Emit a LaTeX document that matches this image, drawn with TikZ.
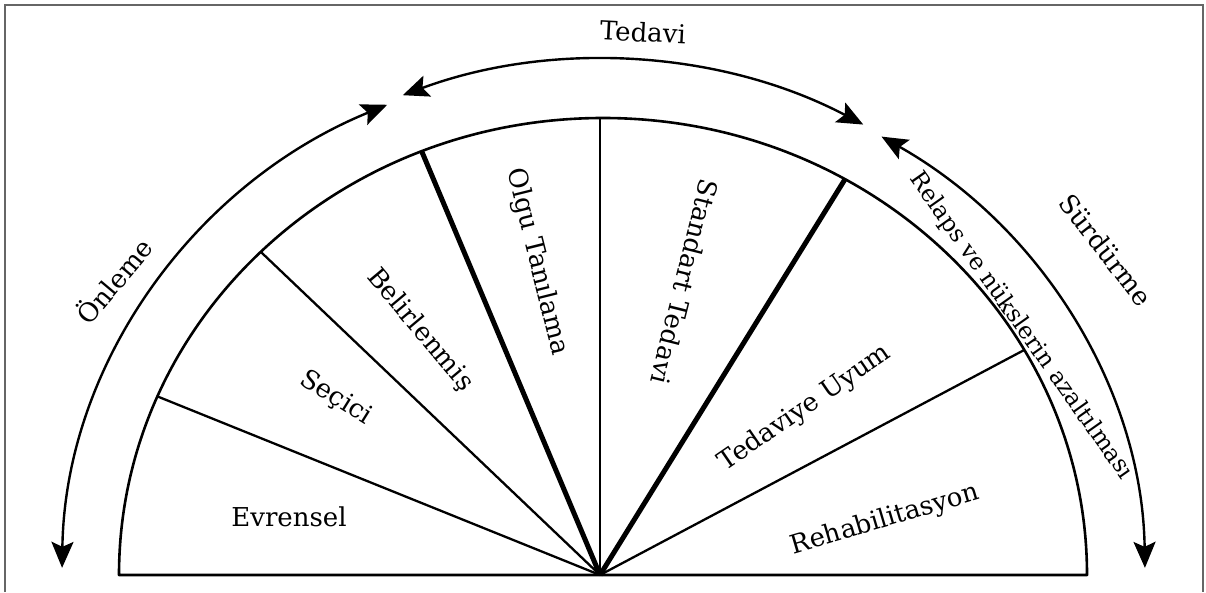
\documentclass[tikz,border=0pt]{standalone}
\usepackage{fontspec}
\setmainfont{DejaVu Serif}
\usetikzlibrary{arrows.meta,calc}
\begin{document}
\begin{tikzpicture}[x=1pt,y=1pt,
  frameline/.style={draw=black!60,line width=1.6},
  rim/.style={line width=2.6,line join=round},
  thinspoke/.style={line width=2.3},
  thickspoke/.style={line width=5},
  bigarrow/.style={line width=2.4,{Stealth[length=26,width=22,inset=5]}-{Stealth[length=26,width=22,inset=5]}},
  lbl/.style={font=\fontsize{26}{30}\selectfont,inner sep=0pt},
  lblsmall/.style={font=\fontsize{23.5}{27}\selectfont,inner sep=0pt}]
\useasboundingbox (0,0) rectangle (1206,592);
% frame
\draw[frameline] (5,0) -- (5,587) -- (1203,587) -- (1203,0);
% centre and spoke ends
\coordinate (c) at (600,17);
\coordinate (cc) at (603,17);
\coordinate (L) at ($(cc)+(180:484 and 457)$);
\coordinate (R) at ($(cc)+(0:484 and 457)$);
\coordinate (s1) at ($(cc)+(157:484 and 457)$);
\coordinate (s2) at ($(cc)+(135:484 and 457)$);
\coordinate (s3) at ($(cc)+(112:484 and 457)$);
\coordinate (s4) at (600,474);
\coordinate (s5) at ($(cc)+(60:484 and 457)$);
\coordinate (s6) at ($(cc)+(29.5:484 and 457)$);
% semicircle
\draw[rim] (R) arc[start angle=0,end angle=180,x radius=484,y radius=457] -- cycle;
\draw[thinspoke] (c) -- (s1);
\draw[thinspoke] (c) -- (s2);
\draw[thickspoke] (c) -- (s3);
\draw[thinspoke] (c) -- (s4);
\draw[thickspoke] (c) -- (s5);
\draw[thinspoke] (c) -- (s6);
% outer arrows
\coordinate (o1) at ($(c)+(113.3:538 and 512)$);
\coordinate (t1) at ($(c)+(111.3:543 and 515)$);
\coordinate (u1) at ($(c)+(58.9:545 and 512)$);
\draw[bigarrow] (o1) arc[start angle=113.3,end angle=179.2,x radius=538,y radius=512];
\draw[bigarrow] (t1) arc[start angle=111.3,end angle=61,x radius=543,y radius=515];
\draw[bigarrow] (u1) arc[start angle=58.9,end angle=0.8,x radius=545,y radius=512];
% outer labels
\node[lbl,rotate=-3] (tedavi) at (643,560) {Tedavi};
\node[lbl,rotate=50] (onleme) at (113,312) {Önleme};
\node[lbl,rotate=-52] (surdurme) at (1106,342) {Sürdürme};
\node[lblsmall,rotate=-54.8] (relaps) at (1021,266) {Relaps ve nükslerin azaltılması};
% sector labels
\node[lbl] (evrensel) at (289,75) {Evrensel};
\node[lbl,rotate=-32] (secici) at (336,194) {Seçici};
\node[lbl,rotate=-50] (belir) at (420,262) {Belirlenmiş};
\node[lbl,rotate=-76] (olgu) at (537,330) {Olgu Tanılama};
\node[lbl,rotate=-104] (standart) at (685,310) {Standart Tedavi};
\node[lbl,rotate=34.5] (uyum) at (805,184) {Tedaviye Uyum};
\node[lbl,rotate=16.5] (rehab) at (885,72) {Rehabilitasyon};
\end{tikzpicture}
\end{document}
